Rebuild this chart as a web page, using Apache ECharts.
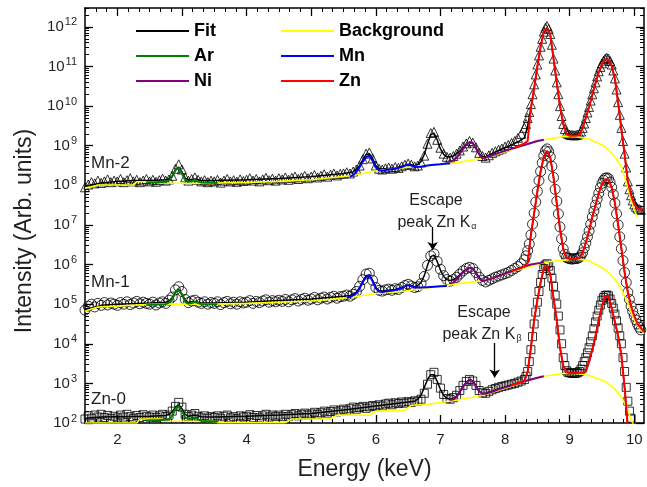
<!DOCTYPE html>
<html><head><meta charset="utf-8">
<script src="https://cdn.jsdelivr.net/npm/echarts@6/dist/echarts.min.js"></script>
<style>html,body{margin:0;padding:0;background:#fff}#c{width:647px;height:487px}</style>
</head><body><div id="c"></div>
<script>
// Measured points: low-energy part 1.50–8.25 keV (step 0.05), high-energy part 8.30–10.10 keV (step 0.025)
const LO_START = 1.5, LO_STEP = 0.05, HI_START = 8.3, HI_STEP = 0.025;
// log10 of intensity (arb. units)
const mn2LogLo = [7.95,8.02,8.08,8.05,8.12,8.06,8.10,8.15,8.08,8.12,
 8.10,8.16,8.08,8.13,8.18,8.10,8.14,8.08,8.12,8.16,
 8.10,8.14,8.09,8.13,8.17,8.12,8.15,8.24,8.42,8.53,
 8.40,8.20,8.12,8.16,8.20,8.14,8.10,8.13,8.08,8.12,
 8.10,8.14,8.07,8.12,8.16,8.10,8.13,8.09,8.15,8.11,
 8.14,8.18,8.12,8.16,8.10,8.15,8.19,8.13,8.17,8.12,
 8.18,8.15,8.20,8.14,8.19,8.22,8.16,8.20,8.24,8.18,
 8.22,8.26,8.20,8.24,8.28,8.22,8.27,8.30,8.25,8.29,
 8.30,8.33,8.30,8.35,8.40,8.50,8.66,8.80,8.83,8.68,
 8.50,8.42,8.40,8.43,8.45,8.42,8.46,8.44,8.48,8.52,
 8.55,8.52,8.48,8.50,8.58,8.75,9.05,9.32,9.35,9.15,
 8.95,8.80,8.72,8.70,8.74,8.80,8.88,8.98,9.06,9.12,
 9.08,8.96,8.82,8.74,8.70,8.76,8.82,8.86,8.90,8.93,
 8.98,9.02,9.07,9.12,9.20,9.30];
const mn2LogHi = [9.45,9.55,9.70,9.85,10.05,10.30,10.55,10.80,11.05,11.28,
 11.50,11.70,11.88,11.98,12.02,11.95,11.82,11.55,11.20,10.90,
 10.60,10.30,10.00,9.75,9.55,9.42,9.32,9.30,9.28,9.27,
 9.27,9.26,9.27,9.28,9.30,9.36,9.45,9.56,9.70,9.84,
 9.98,10.14,10.30,10.45,10.60,10.75,10.88,10.99,11.08,11.15,
 11.20,11.22,11.20,11.14,11.05,10.90,10.70,10.42,10.10,9.78,
 9.45,9.12,8.80,8.45,8.10,7.90,7.75,7.62,7.52,7.46,
 7.42,7.40,7.38];
const mn1LogLo = [4.85,4.95,5.00,4.93,5.02,4.97,5.04,4.98,5.03,5.00,
 4.97,5.04,5.00,5.06,4.99,5.03,5.07,5.01,5.05,5.02,
 5.00,5.05,4.98,5.03,5.06,5.02,5.10,5.18,5.36,5.44,
 5.32,5.12,5.04,5.08,5.10,5.05,5.02,5.06,5.00,5.04,
 5.02,5.06,4.99,5.04,5.07,5.01,5.05,5.00,5.06,5.03,
 5.05,5.09,5.02,5.07,5.04,5.08,5.11,5.05,5.09,5.06,
 5.10,5.07,5.12,5.06,5.11,5.14,5.08,5.12,5.15,5.10,
 5.13,5.17,5.11,5.15,5.18,5.13,5.17,5.20,5.15,5.19,
 5.20,5.23,5.20,5.25,5.32,5.45,5.62,5.76,5.78,5.60,
 5.42,5.35,5.33,5.36,5.38,5.35,5.39,5.37,5.42,5.47,
 5.50,5.46,5.42,5.44,5.52,5.70,5.98,6.22,6.27,6.08,
 5.88,5.72,5.62,5.58,5.62,5.68,5.76,5.84,5.90,5.93,
 5.90,5.80,5.68,5.60,5.56,5.60,5.64,5.68,5.71,5.74,
 5.77,5.80,5.85,5.90,5.95,6.02];
const mn1LogHi = [6.12,6.22,6.35,6.52,6.75,7.02,7.30,7.58,7.85,8.12,
 8.35,8.57,8.75,8.87,8.92,8.85,8.72,8.48,8.20,7.90,
 7.60,7.28,6.95,6.65,6.40,6.26,6.18,6.16,6.15,6.14,
 6.14,6.15,6.15,6.16,6.18,6.23,6.30,6.42,6.55,6.70,
 6.85,7.02,7.20,7.35,7.50,7.65,7.80,7.94,8.05,8.13,
 8.18,8.19,8.17,8.08,7.95,7.77,7.55,7.28,7.00,6.70,
 6.40,6.10,5.80,5.55,5.30,5.12,4.95,4.82,4.70,4.60,
 4.50,4.42,4.35];
const zn0LogLo = [2.10,2.18,2.12,2.20,2.15,2.22,2.14,2.19,2.11,2.17,
 2.13,2.20,2.15,2.22,2.16,2.12,2.19,2.14,2.21,2.17,
 2.15,2.20,2.14,2.18,2.22,2.16,2.20,2.30,2.42,2.52,
 2.40,2.22,2.16,2.20,2.24,2.17,2.13,2.18,2.12,2.16,
 2.14,2.18,2.12,2.17,2.20,2.13,2.16,2.11,2.18,2.15,
 2.17,2.21,2.14,2.19,2.13,2.18,2.22,2.15,2.20,2.16,
 2.20,2.16,2.22,2.17,2.21,2.24,2.18,2.22,2.25,2.20,
 2.23,2.27,2.22,2.26,2.30,2.25,2.29,2.33,2.28,2.32,
 2.35,2.31,2.36,2.40,2.35,2.39,2.42,2.37,2.41,2.44,
 2.42,2.46,2.43,2.48,2.50,2.46,2.51,2.49,2.53,2.50,
 2.54,2.52,2.56,2.55,2.60,2.75,2.98,3.22,3.28,3.10,
 2.88,2.72,2.62,2.60,2.64,2.70,2.82,2.95,3.05,3.10,
 3.06,2.95,2.82,2.76,2.75,2.80,2.84,2.87,2.90,2.92,
 2.94,2.96,2.98,3.00,3.03,3.06];
const zn0LogHi = [3.10,3.18,3.30,3.55,3.85,4.18,4.50,4.80,5.05,5.32,
 5.55,5.75,5.90,5.99,6.02,5.96,5.85,5.66,5.45,5.23,
 5.00,4.70,4.35,4.00,3.65,3.45,3.32,3.28,3.27,3.26,
 3.25,3.25,3.26,3.27,3.30,3.36,3.45,3.55,3.65,3.77,
 3.90,4.05,4.20,4.38,4.55,4.70,4.85,4.98,5.10,5.17,
 5.22,5.23,5.21,5.13,5.02,4.90,4.75,4.58,4.40,4.20,
 4.00,3.65,3.30,2.90,2.55,2.30,2.12,null,null,null,
 null,null,null];

// Fit curves and components: [energy keV, log10 intensity]
const mn2Fit = [[1.5,7.98],[1.75,8.06],[2.0,8.1],[2.25,8.12],[2.5,8.12],[2.75,8.14],[2.8,8.16],[2.85,8.24],[2.9,8.4],[2.95,8.46],[3.0,8.34],[3.05,8.18],[3.1,8.13],[3.2,8.16],[3.3,8.12],[3.5,8.12],[4.0,8.14],[4.5,8.17],[5.0,8.22],[5.5,8.3],[5.65,8.34],[5.7,8.4],[5.75,8.5],[5.8,8.65],[5.85,8.78],[5.9,8.8],[5.95,8.68],[6.0,8.5],[6.05,8.42],[6.1,8.41],[6.3,8.44],[6.45,8.5],[6.5,8.53],[6.6,8.5],[6.65,8.52],[6.7,8.6],[6.75,8.78],[6.8,9.05],[6.85,9.28],[6.9,9.32],[6.95,9.15],[7.0,8.92],[7.05,8.78],[7.1,8.72],[7.15,8.72],[7.2,8.74],[7.25,8.8],[7.3,8.86],[7.35,8.95],[7.4,9.03],[7.45,9.09],[7.5,9.07],[7.55,8.95],[7.6,8.8],[7.65,8.72],[7.7,8.72],[7.8,8.8],[7.9,8.88],[8.0,8.95],[8.1,9.02],[8.2,9.1],[8.3,9.2],[8.35,9.5],[8.4,9.95],[8.45,10.45],[8.5,11.0],[8.55,11.5],[8.6,11.88],[8.65,11.98],[8.7,11.8],[8.75,11.2],[8.8,10.6],[8.85,10.0],[8.9,9.55],[8.95,9.32],[9.0,9.27],[9.1,9.27],[9.15,9.3],[9.2,9.45],[9.25,9.7],[9.3,9.98],[9.35,10.28],[9.4,10.58],[9.45,10.86],[9.5,11.06],[9.55,11.18],[9.6,11.17],[9.65,11.02],[9.7,10.68],[9.75,10.08],[9.8,9.42],[9.85,8.78],[9.9,8.1],[9.95,7.75],[10.0,7.52],[10.05,7.42],[10.15,7.36]];
const mn2Bg = [[1.5,7.93],[1.65,7.98],[1.7,8.01],[2.25,8.01],[2.3,8.09],[2.6,8.09],[2.65,8.06],[3.5,8.05],[3.55,8.06],[4.0,8.07],[4.5,8.1],[5.0,8.14],[5.3,8.19],[5.6,8.24],[5.8,8.3],[6.0,8.37],[6.4,8.44],[6.8,8.5],[7.2,8.56],[7.5,8.64],[7.7,8.7],[8.0,8.85],[8.3,9.02],[8.6,9.15],[8.9,9.23],[9.1,9.23],[9.3,9.17],[9.5,9.02],[9.6,8.9],[9.7,8.72],[9.8,8.47],[9.85,8.21],[9.9,7.96],[9.95,7.63],[10.0,7.37],[10.05,7.2]];
const mn2Ar = [[2.45,8.08],[2.6,8.08],[2.75,8.09],[2.8,8.12],[2.85,8.22],[2.9,8.38],[2.95,8.44],[3.0,8.3],[3.05,8.13],[3.1,8.09],[3.15,8.11],[3.2,8.14],[3.25,8.1],[3.3,8.07],[3.55,8.06]];
const mn2Mn = [[5.6,8.22],[5.65,8.26],[5.7,8.34],[5.75,8.46],[5.8,8.6],[5.85,8.72],[5.9,8.75],[5.95,8.62],[6.0,8.45],[6.05,8.38],[6.1,8.37],[6.2,8.4],[6.3,8.42],[6.4,8.46],[6.45,8.5],[6.5,8.52],[6.55,8.5],[6.6,8.46],[6.7,8.47],[6.8,8.5],[6.9,8.52],[7.0,8.53],[7.1,8.55],[7.15,8.55]];
const mn2Ni = [[7.15,8.6],[7.2,8.63],[7.25,8.7],[7.3,8.8],[7.35,8.92],[7.4,9.02],[7.45,9.09],[7.5,9.07],[7.55,8.93],[7.6,8.78],[7.65,8.68],[7.7,8.7],[7.8,8.76],[7.9,8.82],[8.0,8.87],[8.1,8.92],[8.2,8.97],[8.3,9.02],[8.4,9.07],[8.5,9.12],[8.6,9.15]];
const mn2Zn = [[8.15,8.95],[8.2,8.98],[8.25,9.02],[8.3,9.06],[8.35,9.12],[8.4,9.95],[8.45,10.45],[8.5,11.0],[8.55,11.5],[8.6,11.88],[8.65,11.98],[8.7,11.8],[8.75,11.2],[8.8,10.6],[8.85,10.0],[8.9,9.55],[8.95,9.3],[9.0,9.25],[9.1,9.25],[9.15,9.27],[9.2,9.45],[9.25,9.7],[9.3,9.98],[9.35,10.28],[9.4,10.58],[9.45,10.86],[9.5,11.06],[9.55,11.18],[9.6,11.17],[9.65,11.02],[9.7,10.68],[9.75,10.08],[9.8,9.42],[9.85,8.78],[9.9,8.1],[9.95,7.75],[10.0,7.52],[10.05,7.42],[10.15,7.36]];

const mn1Fit = [[1.5,4.86],[1.75,4.97],[2.0,5.0],[2.5,5.03],[2.75,5.05],[2.8,5.08],[2.85,5.16],[2.9,5.32],[2.95,5.38],[3.0,5.26],[3.05,5.1],[3.1,5.04],[3.2,5.07],[3.3,5.03],[3.5,5.03],[4.0,5.05],[4.5,5.09],[5.0,5.13],[5.5,5.2],[5.6,5.22],[5.7,5.3],[5.75,5.42],[5.8,5.58],[5.85,5.72],[5.9,5.74],[5.95,5.6],[6.0,5.42],[6.05,5.34],[6.1,5.33],[6.3,5.37],[6.45,5.45],[6.5,5.48],[6.6,5.44],[6.65,5.47],[6.7,5.55],[6.75,5.72],[6.8,5.98],[6.85,6.2],[6.9,6.24],[6.95,6.08],[7.0,5.86],[7.05,5.7],[7.1,5.62],[7.15,5.6],[7.2,5.62],[7.25,5.67],[7.3,5.74],[7.35,5.82],[7.4,5.88],[7.45,5.92],[7.5,5.9],[7.55,5.8],[7.6,5.67],[7.65,5.6],[7.7,5.6],[7.8,5.66],[7.9,5.72],[8.0,5.78],[8.1,5.84],[8.2,5.9],[8.3,5.96],[8.35,6.05],[8.4,6.75],[8.45,7.3],[8.5,7.85],[8.55,8.35],[8.6,8.72],[8.65,8.87],[8.7,8.7],[8.75,8.2],[8.8,7.55],[8.85,6.9],[8.9,6.4],[8.95,6.17],[9.0,6.14],[9.1,6.14],[9.15,6.16],[9.2,6.3],[9.25,6.55],[9.3,6.85],[9.35,7.2],[9.4,7.5],[9.45,7.8],[9.5,8.03],[9.55,8.15],[9.6,8.14],[9.65,7.95],[9.7,7.55],[9.75,7.0],[9.8,6.4],[9.85,5.8],[9.9,5.3],[9.95,4.95],[10.0,4.7],[10.05,4.5],[10.15,4.3]];
const mn1Bg = [[1.5,4.82],[1.6,4.88],[1.7,4.93],[2.0,4.95],[2.3,4.98],[2.6,5.0],[3.5,5.0],[4.0,5.02],[4.5,5.05],[5.0,5.08],[5.3,5.12],[5.6,5.17],[5.8,5.22],[6.0,5.27],[6.4,5.32],[7.2,5.5],[7.7,5.6],[8.1,5.82],[8.6,6.05],[9.0,6.13],[9.1,6.14],[9.3,6.1],[9.5,5.92],[9.6,5.8],[9.75,5.53],[9.9,5.03],[10.0,4.6],[10.15,4.25]];
const mn1Ar = [[2.45,4.98],[2.6,4.99],[2.75,5.0],[2.8,5.04],[2.85,5.12],[2.9,5.3],[2.95,5.37],[3.0,5.24],[3.05,5.06],[3.1,5.01],[3.15,5.03],[3.2,5.06],[3.25,5.03],[3.3,5.0],[3.55,5.0]];
const mn1Mn = [[5.55,5.16],[5.6,5.18],[5.7,5.27],[5.75,5.4],[5.8,5.56],[5.85,5.7],[5.9,5.73],[5.95,5.58],[6.0,5.4],[6.05,5.32],[6.1,5.31],[6.2,5.33],[6.3,5.36],[6.4,5.4],[6.45,5.45],[6.5,5.48],[6.55,5.46],[6.6,5.42],[6.7,5.42],[6.8,5.43],[6.9,5.44],[7.0,5.45],[7.1,5.46]];
const mn1Ni = [[7.15,5.52],[7.2,5.55],[7.25,5.62],[7.3,5.72],[7.35,5.8],[7.4,5.87],[7.45,5.92],[7.5,5.9],[7.55,5.78],[7.6,5.65],[7.65,5.58],[7.7,5.6],[7.8,5.65],[7.9,5.71],[8.0,5.77],[8.1,5.83],[8.2,5.89],[8.3,5.95],[8.4,6.0],[8.5,6.03],[8.6,6.06]];
const mn1Zn = [[8.1,5.84],[8.2,5.89],[8.3,5.95],[8.35,6.05],[8.4,6.75],[8.45,7.3],[8.5,7.85],[8.55,8.35],[8.6,8.72],[8.65,8.87],[8.7,8.7],[8.75,8.2],[8.8,7.55],[8.85,6.9],[8.9,6.4],[8.95,6.17],[9.0,6.14],[9.1,6.14],[9.15,6.16],[9.2,6.3],[9.25,6.55],[9.3,6.85],[9.35,7.2],[9.4,7.5],[9.45,7.8],[9.5,8.03],[9.55,8.15],[9.6,8.14],[9.65,7.95],[9.7,7.55],[9.75,7.0],[9.8,6.4],[9.85,5.8],[9.9,5.3],[9.95,4.95],[10.0,4.7],[10.05,4.5],[10.15,4.3]];

const zn0Fit = [[1.5,2.12],[1.75,2.15],[2.0,2.16],[2.5,2.17],[2.75,2.19],[2.8,2.22],[2.85,2.28],[2.9,2.4],[2.95,2.46],[3.0,2.36],[3.05,2.22],[3.1,2.17],[3.2,2.2],[3.3,2.16],[3.5,2.15],[4.0,2.17],[4.5,2.2],[5.0,2.24],[5.5,2.33],[6.0,2.43],[6.5,2.53],[6.6,2.55],[6.65,2.6],[6.7,2.7],[6.75,2.9],[6.8,3.1],[6.85,3.22],[6.9,3.22],[6.95,3.05],[7.0,2.85],[7.05,2.7],[7.1,2.62],[7.15,2.6],[7.2,2.62],[7.25,2.68],[7.3,2.8],[7.35,2.93],[7.4,3.03],[7.45,3.09],[7.5,3.06],[7.55,2.94],[7.6,2.8],[7.65,2.74],[7.7,2.75],[7.8,2.8],[7.9,2.86],[8.0,2.91],[8.1,2.96],[8.2,3.01],[8.3,3.06],[8.35,3.3],[8.4,3.9],[8.45,4.6],[8.5,5.1],[8.55,5.55],[8.6,5.9],[8.65,5.98],[8.7,5.75],[8.75,5.15],[8.8,4.6],[8.85,3.9],[8.9,3.45],[8.95,3.28],[9.0,3.26],[9.1,3.26],[9.2,3.27],[9.25,3.3],[9.3,3.55],[9.35,3.85],[9.4,4.2],[9.45,4.6],[9.5,4.95],[9.55,5.2],[9.6,5.2],[9.65,4.9],[9.7,4.55],[9.75,4.2],[9.8,3.7],[9.85,2.9],[9.9,1.9]];
const zn0Bg = [[1.5,2.0],[2.3,2.0],[2.35,2.1],[2.7,2.1],[2.75,2.05],[3.5,2.04],[3.55,2.01],[4.6,2.01],[4.7,2.1],[5.3,2.1],[5.4,2.2],[5.9,2.2],[6.0,2.3],[6.45,2.32],[6.55,2.45],[6.8,2.47],[7.2,2.56],[7.5,2.65],[7.7,2.72],[8.0,2.88],[8.3,3.05],[8.6,3.18],[8.9,3.25],[9.1,3.26],[9.3,3.2],[9.5,3.08],[9.6,3.0],[9.7,2.85],[9.8,2.65],[9.85,2.5],[9.9,2.3],[9.95,2.1],[10.0,1.9]];
const zn0Ar = [[2.45,2.06],[2.6,2.07],[2.75,2.08],[2.8,2.1],[2.85,2.18],[2.9,2.36],[2.95,2.43],[3.0,2.3],[3.05,2.14],[3.1,2.1],[3.15,2.11],[3.2,2.13],[3.25,2.1],[3.3,2.05],[3.55,2.03]];
const zn0Ni = [[7.15,2.58],[7.2,2.6],[7.25,2.66],[7.3,2.78],[7.35,2.92],[7.4,3.02],[7.45,3.09],[7.5,3.06],[7.55,2.92],[7.6,2.8],[7.65,2.74],[7.7,2.74],[7.8,2.79],[7.9,2.85],[8.0,2.9],[8.1,2.95],[8.2,3.0],[8.3,3.05],[8.4,3.1],[8.5,3.14],[8.6,3.18]];
const zn0Zn = [[8.1,2.96],[8.2,3.01],[8.3,3.06],[8.35,3.3],[8.4,3.9],[8.45,4.6],[8.5,5.1],[8.55,5.55],[8.6,5.9],[8.65,5.98],[8.7,5.75],[8.75,5.15],[8.8,4.6],[8.85,3.9],[8.9,3.45],[8.95,3.28],[9.0,3.26],[9.1,3.26],[9.2,3.27],[9.25,3.3],[9.3,3.55],[9.35,3.85],[9.4,4.2],[9.45,4.6],[9.5,4.95],[9.55,5.2],[9.6,5.2],[9.65,4.9],[9.7,4.55],[9.75,4.2],[9.8,3.7],[9.85,2.9],[9.9,1.9]];

// Axis ticks
const xMajor = [2,3,4,5,6,7,8,9,10];
const xMinorDiv = 6;
const yDecades = [2,3,4,5,6,7,8,9,10,11,12];

// ---------- build ----------
const FONT = '"Liberation Sans", Arial, Helvetica, sans-serif';
const TXT = '#231f20';
const X_MIN = 1.5, X_MAX = 10.15, Y_MIN = 100, Y_MAX = 3e12;
function pts(lo, hi) {
  const out = [];
  lo.forEach((v, i) => { if (v != null) out.push([+(LO_START + i * LO_STEP).toFixed(3), Math.pow(10, v)]); });
  hi.forEach((v, i) => { if (v != null) out.push([+(HI_START + i * HI_STEP).toFixed(3), Math.pow(10, v)]); });
  return out;
}
const curve = pairs => pairs.map(p => [p[0], Math.pow(10, p[1])]);
const xMinor = []; for (let k = 9; k / xMinorDiv <= X_MAX + 1e-9; k++) xMinor.push(k / xMinorDiv);
const yMajorVals = yDecades.map(n => Math.pow(10, n));
const yMinorVals = []; yDecades.forEach(n => { for (let m = 2; m <= 9; m++) { const v = m * Math.pow(10, n); if (v <= Y_MAX) yMinorVals.push(v); } });

function scatter(name, lo, hi, symbol, size, extra) {
  return Object.assign({ type: 'scatter', name, data: pts(lo, hi), symbol, symbolSize: size, silent: true, z: 2,
    itemStyle: { color: 'rgba(255,255,255,0)', borderColor: '#000', borderWidth: 1 } }, extra || {});
}
function ln(name, pairs, color, width, z) {
  return { type: 'line', name, data: curve(pairs), symbol: 'none', showSymbol: false, silent: true, z,
    lineStyle: { color, width }, itemStyle: { color } };
}
function arrow(e, y0, y1) {
  return { silent: true, symbol: ['none', 'arrow'], symbolSize: 8, animation: false, label: { show: false },
    lineStyle: { color: '#000', width: 1.3, type: 'solid' },
    data: [[{ coord: [e, Math.pow(10, y0)] }, { coord: [e, Math.pow(10, y1)] }]] };
}
const C = { fit: '#000000', bg: '#ffff00', ar: '#008000', mn: '#0000ff', ni: '#800080', zn: '#ff0000' };

const series = [
  scatter('Mn-2 data', mn2LogLo, mn2LogHi, 'triangle', 9),
  scatter('Mn-1 data', mn1LogLo, mn1LogHi, 'circle', 10, { markLine: arrow(6.88, 6.95, 6.37) }),
  scatter('Zn-0 data', zn0LogLo, zn0LogHi, 'rect', 8, { markLine: arrow(7.84, 4.02, 3.15) }),
  ln('Fit', mn2Fit, C.fit, 1.5, 3), ln('Fit', mn1Fit, C.fit, 1.5, 3), ln('Fit', zn0Fit, C.fit, 1.5, 3),
  ln('Background', mn2Bg, C.bg, 1.6, 4), ln('Background', mn1Bg, C.bg, 1.6, 4), ln('Background', zn0Bg, C.bg, 1.6, 4),
  ln('Ar', mn2Ar, C.ar, 2, 5), ln('Ar', mn1Ar, C.ar, 2, 5), ln('Ar', zn0Ar, C.ar, 2, 5),
  ln('Mn', mn2Mn, C.mn, 2, 5), ln('Mn', mn1Mn, C.mn, 2, 5),
  ln('Ni', mn2Ni, C.ni, 2, 5), ln('Ni', mn1Ni, C.ni, 2, 5), ln('Ni', zn0Ni, C.ni, 2, 5),
  ln('Zn', mn2Zn, C.zn, 2, 6), ln('Zn', mn1Zn, C.zn, 2, 6), ln('Zn', zn0Zn, C.zn, 2, 6)
];

const axLine = { show: true, onZero: false, lineStyle: { color: '#000', width: 1.5 } };
const tickMaj = vals => ({ show: true, inside: true, length: 8, customValues: vals, lineStyle: { color: '#000', width: 1.3 } });
const tickMin = vals => ({ show: true, inside: true, length: 4, customValues: vals, lineStyle: { color: '#000', width: 1 } });
const xBase = { type: 'value', min: X_MIN, max: X_MAX, splitLine: { show: false }, axisLabel: { show: false } };
const yBase = { type: 'log', logBase: 10, min: Y_MIN, max: Y_MAX, splitLine: { show: false }, axisLabel: { show: false } };

const legendCommon = { orient: 'vertical', icon: 'rect', itemWidth: 53, itemHeight: 2, itemGap: 7, selectedMode: false,
  textStyle: { fontFamily: FONT, fontSize: 18, fontWeight: 'bold', color: '#000', lineHeight: 18 } };

const option = {
  animation: false,
  backgroundColor: '#fff',
  textStyle: { fontFamily: FONT },
  grid: { left: 85, right: 3, top: 8, bottom: 64, containLabel: false },
  legend: [
    Object.assign({ left: 131, top: 17, data: ['Fit', 'Ar', 'Ni'] }, legendCommon),
    Object.assign({ left: 276, top: 17, data: ['Background', 'Mn', 'Zn'] }, legendCommon)
  ],
  xAxis: [
    Object.assign({}, xBase, { position: 'bottom', axisLine: axLine, axisTick: tickMaj(xMajor),
      axisLabel: { show: true, customValues: xMajor, fontSize: 15, color: TXT, margin: 9, fontFamily: FONT },
      name: 'Energy (keV)', nameLocation: 'middle', nameGap: 35,
      nameTextStyle: { fontSize: 23, color: TXT, fontFamily: FONT } }),
    Object.assign({}, xBase, { position: 'bottom', axisLine: { show: false }, axisTick: tickMin(xMinor) }),
    Object.assign({}, xBase, { position: 'top', axisLine: axLine, axisTick: tickMaj(xMajor) }),
    Object.assign({}, xBase, { position: 'top', axisLine: { show: false }, axisTick: tickMin(xMinor) })
  ],
  yAxis: [
    Object.assign({}, yBase, { position: 'left', axisLine: axLine, axisTick: tickMaj(yMajorVals),
      axisLabel: { show: true, customValues: yMajorVals, margin: 8, color: TXT, fontFamily: FONT,
        formatter: v => '{b|10}{s|' + Math.round(Math.log10(v)) + '}',
        rich: { b: { fontSize: 15, color: TXT, fontFamily: FONT },
                s: { fontSize: 11, color: TXT, fontFamily: FONT, verticalAlign: 'bottom', padding: [0, 0, 9, 1] } } },
      name: 'Intensity (Arb. units)', nameLocation: 'middle', nameGap: 48,
      nameTextStyle: { fontSize: 23, color: TXT, fontFamily: FONT, padding: [0, 31, 0, 0] } }),
    Object.assign({}, yBase, { position: 'left', axisLine: { show: false }, axisTick: tickMin(yMinorVals) }),
    Object.assign({}, yBase, { position: 'right', axisLine: axLine, axisTick: tickMaj(yMajorVals) }),
    Object.assign({}, yBase, { position: 'right', axisLine: { show: false }, axisTick: tickMin(yMinorVals) })
  ],
  series,
  graphic: [
    { type: 'text', left: 91, top: 155, style: { text: 'Mn-2', fontSize: 17, fontFamily: FONT, fill: TXT } },
    { type: 'text', left: 91, top: 274, style: { text: 'Mn-1', fontSize: 17, fontFamily: FONT, fill: TXT } },
    { type: 'text', left: 91, top: 391, style: { text: 'Zn-0', fontSize: 17, fontFamily: FONT, fill: TXT } },
    { type: 'text', x: 436, y: 201, style: { text: 'Escape', fontSize: 16, fontFamily: FONT, fill: TXT, align: 'center', verticalAlign: 'middle' } },
    { type: 'text', x: 437, y: 223, style: { text: 'peak Zn K{s|α}', fontSize: 16, fontFamily: FONT, fill: TXT, align: 'center', verticalAlign: 'middle',
      rich: { s: { fontSize: 9, fontFamily: FONT, fill: TXT, verticalAlign: 'bottom', padding: [8, 0, 0, 1] } } } },
    { type: 'text', x: 484, y: 313, style: { text: 'Escape', fontSize: 16, fontFamily: FONT, fill: TXT, align: 'center', verticalAlign: 'middle' } },
    { type: 'text', x: 482, y: 335, style: { text: 'peak Zn K{s|β}', fontSize: 16, fontFamily: FONT, fill: TXT, align: 'center', verticalAlign: 'middle',
      rich: { s: { fontSize: 9, fontFamily: FONT, fill: TXT, verticalAlign: 'bottom', padding: [8, 0, 0, 1] } } } }
  ]
};
const chart = echarts.init(document.getElementById('c'), null, { renderer: 'canvas' });
chart.setOption(option);
</script></body></html>
